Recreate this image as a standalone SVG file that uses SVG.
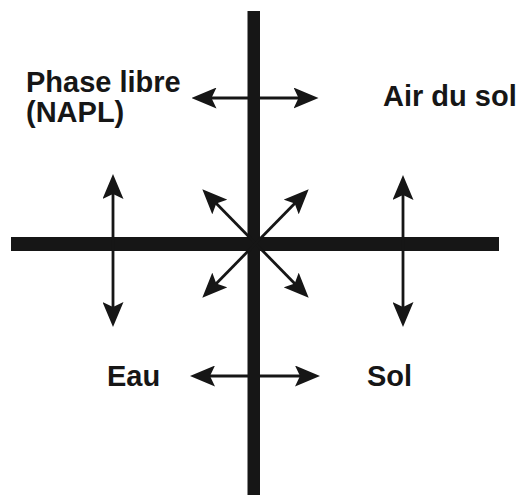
<svg xmlns="http://www.w3.org/2000/svg" width="522" height="495" viewBox="0 0 522 495">
  <style>
    .lbl { font-family: "Liberation Sans", Arial, sans-serif; font-weight: bold; font-size: 29px; fill: #161616; }
    .bar { fill: #161616; }
    .arr { stroke: #161616; stroke-width: 2.8; fill: none; marker-start: url(#head); marker-end: url(#head); }
  </style>
  <defs>
    <marker id="head" viewBox="0 0 25 21" refX="14" refY="10.5" markerWidth="25" markerHeight="21" markerUnits="userSpaceOnUse" orient="auto-start-reverse">
      <path d="M0,0 L25,10.5 L0,21 L5,10.5 z" fill="#161616"/>
    </marker>
  </defs>
  <rect width="522" height="495" fill="#ffffff"/>
  <g id="axes">
    <rect class="bar" x="11" y="237" width="488" height="14"/>
    <rect class="bar" x="247.5" y="11" width="12.5" height="484"/>
  </g>
  <g id="connectors">
    <line class="arr" x1="202.5" y1="98" x2="307.5" y2="98"/>
    <line class="arr" x1="201" y1="376" x2="309" y2="376"/>
    <line class="arr" x1="113" y1="185" x2="113" y2="316"/>
    <line class="arr" x1="403" y1="186" x2="403" y2="316"/>
    <line class="arr" x1="210" y1="197" x2="301" y2="290"/>
    <line class="arr" x1="301" y1="197" x2="210" y2="290"/>
  </g>
  <g id="phase-libre">
    <text class="lbl" x="26" y="92">Phase libre</text>
    <text class="lbl" x="26" y="122">(NAPL)</text>
  </g>
  <g id="air-du-sol">
    <text class="lbl" x="383" y="106">Air du sol</text>
  </g>
  <g id="eau">
    <text class="lbl" x="107" y="386">Eau</text>
  </g>
  <g id="sol">
    <text class="lbl" x="367" y="386">Sol</text>
  </g>
</svg>
